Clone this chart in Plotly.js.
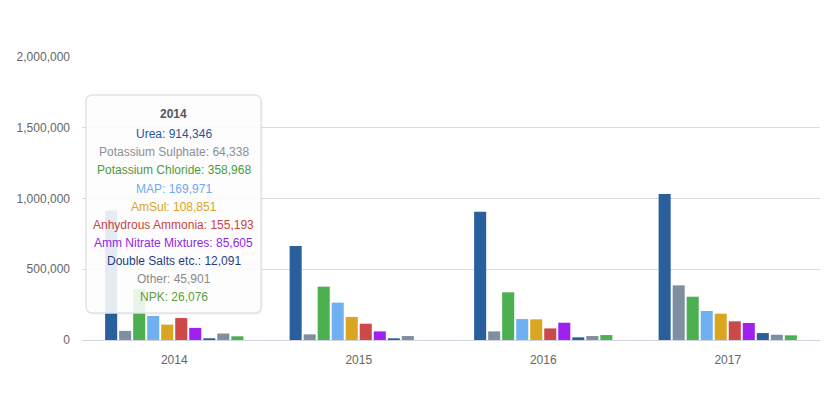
<!DOCTYPE html>
<html>
<head>
<meta charset="utf-8">
<script src="https://cdn.plot.ly/plotly-3.0.1.min.js"></script>
<style>
  html, body { margin: 0; padding: 0; background: #ffffff; }
  #chart { width: 828px; height: 393px; }
</style>
</head>
<body>
<div id="chart"></div>
<script>
// ---- Data ----
const years = ['2014', '2015', '2016', '2017'];
const seriesNames = ['Urea', 'Potassium Sulphate', 'Potassium Chloride', 'MAP', 'AmSul',
  'Anhydrous Ammonia', 'Amm Nitrate Mixtures', 'Double Salts etc.', 'Other', 'NPK'];
const urea        = [914346, 664000, 907000, 1032000];
const potSulphate = [64338, 40000, 61000, 386000];
const potChloride = [358968, 377000, 337000, 306000];
const map         = [169971, 264000, 148000, 205000];
const amSul       = [108851, 163000, 146000, 186000];
const anhAmmonia  = [155193, 115000, 82000, 132000];
const ammNitrate  = [85605, 61000, 122000, 120000];
const doubleSalts = [12091, 12000, 19000, 49000];
const other       = [45901, 28000, 28000, 37000];
const npk         = [26076, 0, 35000, 33000];
const seriesValues = [urea, potSulphate, potChloride, map, amSul, anhAmmonia, ammNitrate, doubleSalts, other, npk];
const yTicks = [0, 500000, 1000000, 1500000, 2000000];

// ---- Style ----
const palette = ['#2a5f9e', '#7f8fa0', '#4caf50', '#6eb0f0', '#daa520', '#cd4848', '#a020f0'];
const W = 828, H = 393;
const M = { l: 82, r: 8, t: 57, b: 53 };
const pw = W - M.l - M.r, ph = H - M.t - M.b;
const px = x => (x - M.l) / pw;
const py = y => (H - M.b - y) / ph;

const traces = seriesNames.map((name, i) => ({
  type: 'bar',
  name: name,
  x: years,
  y: seriesValues[i],
  marker: { color: palette[i % palette.length], line: { width: 0 } },
  hoverinfo: 'skip'
}));

// Tooltip box (rounded rectangle) in pixel -> paper coordinates
function roundRect(x0, y0, x1, y1, r) {
  return 'M ' + px(x0 + r) + ' ' + py(y0) +
    ' L ' + px(x1 - r) + ' ' + py(y0) +
    ' Q ' + px(x1) + ' ' + py(y0) + ' ' + px(x1) + ' ' + py(y0 + r) +
    ' L ' + px(x1) + ' ' + py(y1 - r) +
    ' Q ' + px(x1) + ' ' + py(y1) + ' ' + px(x1 - r) + ' ' + py(y1) +
    ' L ' + px(x0 + r) + ' ' + py(y1) +
    ' Q ' + px(x0) + ' ' + py(y1) + ' ' + px(x0) + ' ' + py(y1 - r) +
    ' L ' + px(x0) + ' ' + py(y0 + r) +
    ' Q ' + px(x0) + ' ' + py(y0) + ' ' + px(x0 + r) + ' ' + py(y0) + ' Z';
}
const box = { x0: 86, y0: 95, x1: 261, y1: 313, r: 7 };
const shapes = [
  { type: 'path', xref: 'paper', yref: 'paper', path: roundRect(box.x0 + 2, box.y0 + 2, box.x1 + 2, box.y1 + 2, box.r),
    fillcolor: 'rgba(0,0,0,0.03)', line: { width: 0 }, layer: 'above' },
  { type: 'path', xref: 'paper', yref: 'paper', path: roundRect(box.x0 + 1, box.y0 + 1, box.x1 + 1, box.y1 + 1, box.r),
    fillcolor: 'rgba(0,0,0,0.04)', line: { width: 0 }, layer: 'above' },
  { type: 'path', xref: 'paper', yref: 'paper', path: roundRect(box.x0, box.y0, box.x1, box.y1, box.r),
    fillcolor: 'rgba(255,255,255,0.88)', line: { color: '#e3e3e3', width: 1.5 }, layer: 'above' }
];

const fmt = v => v.toLocaleString('en-US');
const tipX = 173.5;
const annotations = [{
  xref: 'paper', yref: 'paper', x: px(tipX), y: py(114), xanchor: 'center', yanchor: 'middle',
  text: '<b>' + years[0] + '</b>', showarrow: false,
  font: { family: 'Liberation Sans, Arial, sans-serif', size: 12, color: '#555555' }
}];
const textColors = ['#2a5596', '#8a8f96', '#4d9a3c', '#6eaaf0', '#d9a424', '#c84444', '#9028e6', '#1f3f7c', '#8a8a8a', '#5a9e3a'];
seriesNames.forEach((name, i) => {
  annotations.push({
    xref: 'paper', yref: 'paper', x: px(tipX), y: py(134.3 + 18.08 * i),
    xanchor: 'center', yanchor: 'middle', showarrow: false,
    text: name + ': ' + fmt(seriesValues[i][0]),
    font: { family: 'Liberation Sans, Arial, sans-serif', size: 12, color: textColors[i] }
  });
});

const layout = {
  width: W, height: H,
  margin: M,
  paper_bgcolor: '#ffffff', plot_bgcolor: '#ffffff',
  showlegend: false,
  barmode: 'group',
  bargap: 0.24,
  bargroupgap: 0.14,
  font: { family: 'Liberation Sans, Arial, sans-serif', size: 12, color: '#666666' },
  xaxis: {
    type: 'category',
    showgrid: false,
    showline: true, linecolor: '#d0d6e0', linewidth: 1,
    ticks: '', tickfont: { size: 12, color: '#666666' },
    ticklabelstandoff: 9,
    zeroline: false
  },
  yaxis: {
    range: [0, 2000000],
    tickvals: yTicks,
    ticktext: yTicks.map(fmt),
    showgrid: true, gridcolor: '#dadada', gridwidth: 1,
    zeroline: false, showline: false,
    tickfont: { size: 12, color: '#666666' },
    ticklabelstandoff: 11
  },
  shapes: shapes,
  annotations: annotations
};

Plotly.newPlot('chart', traces, layout, { displayModeBar: false, staticPlot: true });
</script>
</body>
</html>
